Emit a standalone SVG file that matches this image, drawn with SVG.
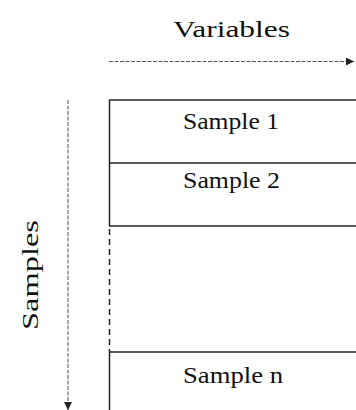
<svg xmlns="http://www.w3.org/2000/svg" width="356" height="410" viewBox="0 0 356 410">
  <style>
    text { font-family: 'Liberation Serif', serif; fill: #111; }
    .rule { stroke: #222; stroke-width: 1.5; fill: none; }
    .dash { stroke: #222; stroke-width: 1.5; stroke-dasharray: 6 4; fill: none; }
    .axis { stroke: #555; stroke-width: 1; stroke-dasharray: 4 1.5; fill: none; }
  </style>
  <defs>
    <marker id="head" viewBox="0 0 10 10" refX="10" refY="5" markerWidth="11" markerHeight="8" markerUnits="userSpaceOnUse" orient="auto">
      <path d="M0,0 L10,5 L0,10 Z" fill="#222"/>
    </marker>
  </defs>
  <rect width="356" height="410" fill="#fff"/>

  <!-- axis arrows -->
  <g id="connectors">
    <line class="axis" x1="109" y1="61.5" x2="354" y2="61.5" marker-end="url(#head)"/>
    <line class="axis" x1="68" y1="100" x2="68" y2="410" marker-end="url(#head)"/>
  </g>

  <!-- axis labels -->
  <g id="variables-label">
    <text x="173" y="37" font-size="23" textLength="117" lengthAdjust="spacingAndGlyphs">Variables</text>
  </g>
  <g id="samples-label">
    <text transform="translate(38,330) rotate(-90)" font-size="24" textLength="110" lengthAdjust="spacingAndGlyphs">Samples</text>
  </g>

  <!-- data table -->
  <g id="table-frame">
    <line class="rule" x1="109.5" y1="100" x2="109.5" y2="226"/>
    <line class="dash" x1="109.5" y1="229" x2="109.5" y2="352"/>
    <line class="rule" x1="109.5" y1="352" x2="109.5" y2="410"/>
  </g>
  <g id="row-1">
    <line class="rule" x1="109" y1="100" x2="356" y2="100"/>
    <text x="183" y="129" font-size="23" textLength="96" lengthAdjust="spacingAndGlyphs">Sample 1</text>
  </g>
  <g id="row-2">
    <line class="rule" x1="109" y1="163" x2="356" y2="163"/>
    <text x="183" y="188" font-size="23" textLength="97" lengthAdjust="spacingAndGlyphs">Sample 2</text>
  </g>
  <g id="row-gap">
    <line class="rule" x1="109" y1="226" x2="356" y2="226"/>
  </g>
  <g id="row-n">
    <line class="rule" x1="109" y1="352" x2="356" y2="352"/>
    <text x="183" y="383" font-size="23" textLength="100" lengthAdjust="spacingAndGlyphs">Sample n</text>
  </g>
</svg>
